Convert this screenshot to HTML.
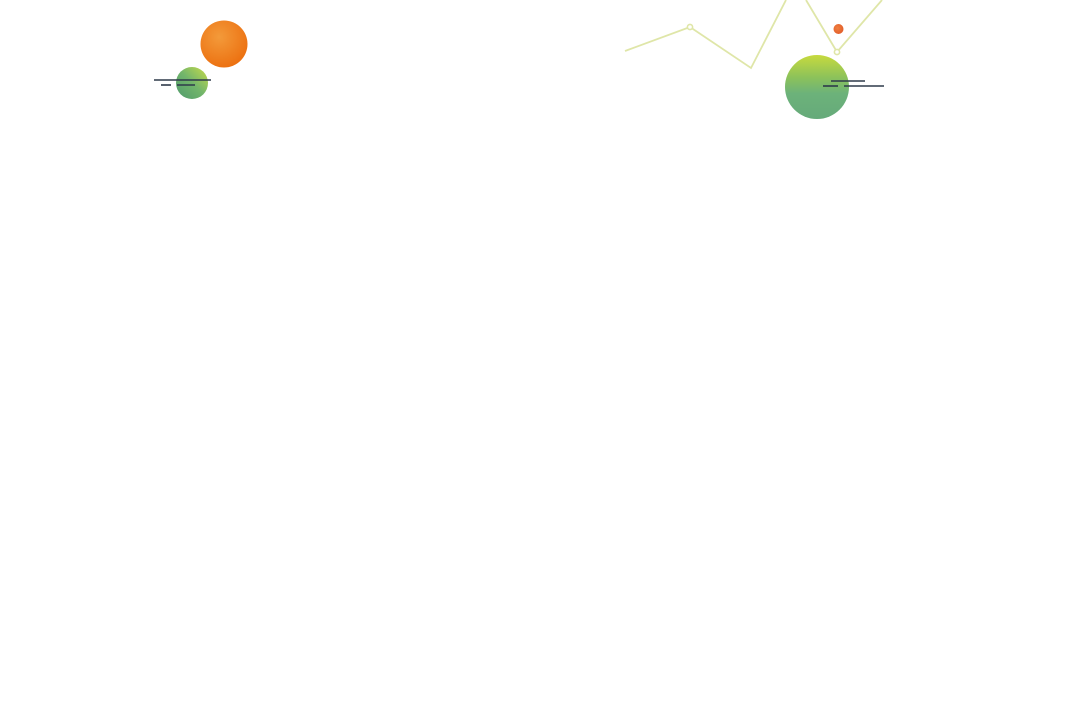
<!DOCTYPE html>
<html><head><style>body{margin:0;background:#fff}svg{display:block}</style></head><body>
<svg width="1080" height="720" xmlns="http://www.w3.org/2000/svg">
<defs>
<radialGradient id="o" cx="40%" cy="35%" r="70%"><stop offset="0" stop-color="#f39a3a"/><stop offset="1" stop-color="#ec6f0f"/></radialGradient>
<linearGradient id="g1" x1="1" y1="0" x2="0" y2="1"><stop offset="0" stop-color="#c9dc4a"/><stop offset="0.5" stop-color="#72b56b"/><stop offset="1" stop-color="#4f9a6c"/></linearGradient>
<linearGradient id="g2" x1="0" y1="0" x2="0" y2="1"><stop offset="0" stop-color="#c7da3e"/><stop offset="0.35" stop-color="#8cc25a"/><stop offset="0.6" stop-color="#6cb27a"/><stop offset="1" stop-color="#66aa7a"/></linearGradient>
<radialGradient id="r" cx="40%" cy="40%" r="70%"><stop offset="0" stop-color="#f08040"/><stop offset="1" stop-color="#e05a28"/></radialGradient>
</defs>
<circle cx="224" cy="44" r="23.5" fill="url(#o)"/>
<circle cx="192" cy="83" r="16" fill="url(#g1)"/>
<g stroke="#2e3a4a" stroke-width="1.6">
<line x1="154" y1="80" x2="211" y2="80"/><line x1="161" y1="85" x2="171" y2="85"/><line x1="177" y1="85" x2="195" y2="85"/>
</g>
<g fill="none" stroke="#dfe6a8" stroke-width="1.8">
<polyline points="625,51 690,27 751,68 786,0"/>
<polyline points="806,0 837,52 882,0"/>
</g>
<circle cx="690" cy="27" r="2.6" fill="#fff" stroke="#dfe6a8" stroke-width="1.6"/>
<circle cx="837" cy="52" r="2.6" fill="#fff" stroke="#dfe6a8" stroke-width="1.6"/>
<circle cx="838.5" cy="29" r="5" fill="url(#r)"/>
<circle cx="817" cy="87" r="32" fill="url(#g2)"/>
<g stroke="#2e3a4a" stroke-width="1.6">
<line x1="831" y1="81" x2="865" y2="81"/><line x1="823" y1="86" x2="838" y2="86"/><line x1="844" y1="86" x2="884" y2="86"/>
</g>
</svg>
</body></html>
